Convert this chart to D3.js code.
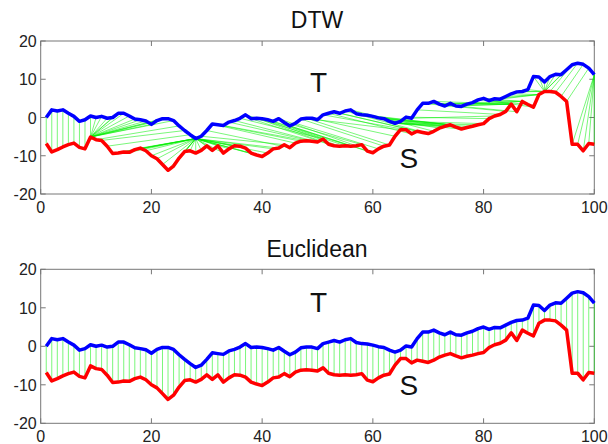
<!DOCTYPE html>
<html>
<head>
<meta charset="utf-8">
<script src="https://cdn.jsdelivr.net/npm/d3@7"></script>
<style>
  body { margin: 0; background: #fff; }
  text { font-family: "Liberation Sans", Arial, sans-serif; }
</style>
</head>
<body>
<script>
// Size of the whole picture
var w = 608;
var h = 444;

// Query series T (blue) and candidate series S (red), sampled at x = 1..100
var tSeries = [
  0.0, 2.0, 1.7, 2.0, 1.1, 0.3, -1.0, -0.6, 0.4, 0.0,
  0.3, -0.2, 0.0, 1.1, 1.1, 0.4, -0.4, -0.6, -0.9, -1.8,
  -0.8, -0.3, -0.3, -0.8, -2.2, -3.4, -4.5, -5.5, -4.9, -3.4,
  -1.7, -1.9, -2.1, -1.2, -0.8, -0.2, 0.7, -0.3, -0.2, -0.3,
  -0.6, -1.0, -0.3, -1.3, -2.2, -1.5, -0.4, -0.2, -0.2, -0.6,
  0.7, 1.1, 1.5, 1.1, 1.7, 2.0, 1.0, 0.7, 0.6, 0.3,
  -0.1, -0.3, -1.0, -1.5, -1.0, 0.1, -0.2, 2.0, 3.7, 3.7,
  4.2, 3.5, 3.0, 3.7, 3.0, 2.9, 3.5, 3.9, 4.6, 5.0,
  4.4, 4.9, 4.8, 5.5, 6.2, 6.7, 6.8, 7.3, 10.7, 10.6,
  9.3, 10.7, 11.3, 11.2, 12.5, 13.8, 14.2, 13.9, 12.9, 11.2
];
var sSeries = [
  -6.8, -9.0, -8.4, -7.7, -7.1, -6.7, -7.8, -8.2, -5.1, -5.8,
  -6.0, -7.5, -9.4, -9.3, -9.0, -9.1, -8.4, -8.0, -8.7, -10.0,
  -10.8, -12.3, -13.8, -12.7, -10.6, -8.9, -8.7, -9.3, -8.6, -7.4,
  -8.6, -7.4, -9.3, -8.2, -7.4, -7.5, -8.0, -9.3, -9.8, -10.2,
  -9.3, -8.2, -8.0, -7.1, -7.9, -6.7, -6.2, -6.1, -6.2, -6.4,
  -5.6, -7.0, -7.4, -7.5, -7.4, -7.5, -7.4, -7.1, -8.8, -9.2,
  -8.2, -7.5, -7.2, -4.9, -3.2, -3.2, -4.3, -3.6, -3.9, -4.2,
  -3.6, -2.8, -2.3, -1.9, -2.5, -3.0, -2.6, -2.3, -1.9, -1.6,
  -0.3, 0.4, 0.8, 1.6, 3.5, 1.5, 4.2, 3.4, 2.7, 6.0,
  6.8, 6.8, 6.6, 5.5, 4.2, -7.0, -7.0, -8.7, -6.8, -7.0
];

// Tick values for both axes
var xTicks = [0, 20, 40, 60, 80, 100];
var yTicks = [-20, -10, 0, 10, 20];

// Panel titles and the T / S annotations (data coordinates)
var panelTitles = ["DTW", "Euclidean"];
var seriesNames = ["T", "S"];
var labelX = [50.2, 66.5];
var labelYTop = [6.7, -13.3];
var labelYBottom = [9.0, -12.6];

// Warping window (Sakoe-Chiba band, in samples)
var warpWindow = 15;

// Pixel layout of the two axes boxes
var left = 40.7, right = 594.3;
var panels = [
  { title: panelTitles[0], top: 41, bottom: 194, titleY: 27.5, dtw: true, labelY: labelYTop },
  { title: panelTitles[1], top: 269.3, bottom: 423.3, titleY: 256.7, dtw: false, labelY: labelYBottom }
];

var svg = d3.select("body")
  .append("svg")
  .attr("width", w)
  .attr("height", h);

// Dynamic time warping alignment between two series, returns index pairs
function dtwPath(a, b, win) {
  var n = a.length, m = b.length;
  var D = [];
  for (var i = 0; i < n; i++) {
    D.push(new Array(m).fill(Infinity));
    for (var j = Math.max(0, i - win); j <= Math.min(m - 1, i + win); j++) {
      var c = (a[i] - b[j]) * (a[i] - b[j]);
      if (i === 0 && j === 0) { D[i][j] = c; continue; }
      var best = Infinity;
      if (i > 0) best = Math.min(best, D[i - 1][j]);
      if (j > 0) best = Math.min(best, D[i][j - 1]);
      if (i > 0 && j > 0) best = Math.min(best, D[i - 1][j - 1]);
      D[i][j] = c + best;
    }
  }
  // walk back from the end
  var path = [[n - 1, m - 1]];
  var i = n - 1, j = m - 1;
  while (i > 0 || j > 0) {
    if (i === 0) j--;
    else if (j === 0) i--;
    else {
      var diag = D[i - 1][j - 1], up = D[i - 1][j], lf = D[i][j - 1];
      if (diag <= up && diag <= lf) { i--; j--; }
      else if (up <= lf) i--;
      else j--;
    }
    path.push([i, j]);
  }
  return path.reverse();
}

var xScale = d3.scaleLinear().domain([0, 100]).range([left, right]);

panels.forEach(function(p) {
  var yScale = d3.scaleLinear().domain([-20, 20]).range([p.bottom, p.top]);
  var g = svg.append("g");

  // Box around the axes
  g.append("rect")
    .attr("x", left)
    .attr("y", p.top)
    .attr("width", right - left)
    .attr("height", p.bottom - p.top)
    .attr("fill", "none")
    .attr("stroke", "#777")
    .attr("stroke-width", 1);

  // Inward ticks on all four sides, MATLAB style
  var tl = 5;
  xTicks.forEach(function(t) {
    g.append("line").attr("x1", xScale(t)).attr("x2", xScale(t))
      .attr("y1", p.bottom).attr("y2", p.bottom - tl).attr("stroke", "#777");
    g.append("line").attr("x1", xScale(t)).attr("x2", xScale(t))
      .attr("y1", p.top).attr("y2", p.top + tl).attr("stroke", "#777");
  });
  yTicks.forEach(function(t) {
    g.append("line").attr("x1", left).attr("x2", left + tl)
      .attr("y1", yScale(t)).attr("y2", yScale(t)).attr("stroke", "#777");
    g.append("line").attr("x1", right).attr("x2", right - tl)
      .attr("y1", yScale(t)).attr("y2", yScale(t)).attr("stroke", "#777");
  });

  // Tick labels
  g.selectAll(".xl")
    .data(xTicks)
    .enter()
    .append("text")
    .attr("x", function(d) { return xScale(d); })
    .attr("y", p.bottom + 18.5)
    .attr("text-anchor", "middle")
    .attr("font-size", "16px")
    .attr("fill", "#222")
    .text(function(d) { return d; });

  g.selectAll(".yl")
    .data(yTicks)
    .enter()
    .append("text")
    .attr("x", left - 4)
    .attr("y", function(d) { return yScale(d) + 6; })
    .attr("text-anchor", "end")
    .attr("font-size", "16px")
    .attr("fill", "#222")
    .text(function(d) { return d; });

  // Title
  g.append("text")
    .attr("x", 317)
    .attr("y", p.titleY)
    .attr("text-anchor", "middle")
    .attr("font-size", "23px")
    .attr("fill", "#111")
    .text(p.title);

  // Green correspondence lines: warping path or plain i-to-i pairs
  var pairs = p.dtw ? dtwPath(tSeries, sSeries, warpWindow)
                    : tSeries.map(function(d, i) { return [i, i]; });
  g.selectAll(".link")
    .data(pairs)
    .enter()
    .append("line")
    .attr("x1", function(d) { return xScale(d[0] + 1); })
    .attr("y1", function(d) { return yScale(tSeries[d[0]]); })
    .attr("x2", function(d) { return xScale(d[1] + 1); })
    .attr("y2", function(d) { return yScale(sSeries[d[1]]); })
    .attr("stroke", "#00ee00")
    .attr("stroke-opacity", 0.75)
    .attr("stroke-width", 0.7);

  var line = d3.line()
    .x(function(d, i) { return xScale(i + 1); })
    .y(function(d) { return yScale(d); });

  g.append("path")
    .datum(tSeries)
    .attr("d", line)
    .attr("fill", "none")
    .attr("stroke", "#0000ff")
    .attr("stroke-width", 3.5)
    .attr("stroke-linejoin", "round");

  g.append("path")
    .datum(sSeries)
    .attr("d", line)
    .attr("fill", "none")
    .attr("stroke", "#ff0000")
    .attr("stroke-width", 3.5)
    .attr("stroke-linejoin", "round");

  // T and S annotations
  seriesNames.forEach(function(name, k) {
    g.append("text")
      .attr("x", xScale(labelX[k]))
      .attr("y", yScale(p.labelY[k]))
      .attr("text-anchor", "middle")
      .attr("font-size", "28px")
      .attr("fill", "#111")
      .text(name);
  });
});
</script>
</body>
</html>
